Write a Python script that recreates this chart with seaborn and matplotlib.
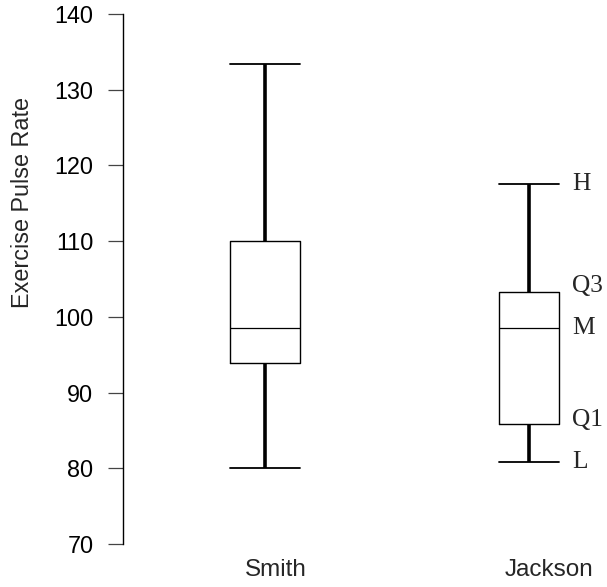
import matplotlib
matplotlib.use("Agg")
import matplotlib.pyplot as plt
import matplotlib.transforms as mtransforms
import pandas as pd
import seaborn as sns

# Five-number summaries of exercise pulse rate for each instructor's class
instructors = ["Smith", "Jackson"]
low = [80.0, 80.8]
q1 = [93.9, 85.8]
median = [98.5, 98.5]
q3 = [110.0, 103.3]
high = [133.4, 117.5]

summary_names = ["L", "Q1", "M", "Q3", "H"]
y_ticks = [70, 80, 90, 100, 110, 120, 130, 140]

# Long-form table: five values per group reproduce the summary exactly
rows = []
for i, name in enumerate(instructors):
    for v in (low[i], q1[i], median[i], q3[i], high[i]):
        rows.append({"Instructor": name, "Pulse": v})
df = pd.DataFrame(rows)

sns.set_style("white")
plt.rcParams["font.family"] = ["Liberation Sans", "DejaVu Sans"]

fig = plt.figure(figsize=(6.07, 5.87), dpi=100)
ax = fig.add_axes([0.2026, 0.0733, 0.786, 0.9029])

box_widths = [0.262, 0.224]
for name, w in zip(instructors, box_widths):
    sns.boxplot(
        data=df[df["Instructor"] == name], x="Instructor", y="Pulse",
        order=instructors, width=w, whis=(0, 100), showfliers=False,
        fill=False, color="black", linecolor="black", linewidth=1.0,
        boxprops=dict(linewidth=1.0),
        medianprops=dict(linewidth=0.9),
        whiskerprops=dict(linewidth=2.6, solid_capstyle="butt"),
        capprops=dict(linewidth=1.3),
        capwidths=w,
        ax=ax,
    )

ax.set_xlim(-0.538, 1.269)
ax.set_ylim(70, 140)
ax.set_yticks(y_ticks)
ax.set_yticklabels([str(t) for t in y_ticks])

for side in ("top", "right", "bottom"):
    ax.spines[side].set_visible(False)
ax.spines["left"].set_color("black")
ax.spines["left"].set_linewidth(1.0)

ax.tick_params(axis="y", direction="out", length=10.8, width=0.9,
               colors="#444444", labelcolor="black", labelsize=16.8, pad=10.5, left=True)
ax.tick_params(axis="x", length=0, labelsize=17.5, pad=11)

ax.set_xticks(range(len(instructors)))
ax.set_xticklabels(instructors)
for lbl, dx in zip(ax.get_xticklabels(), [11, 20]):
    lbl.set_transform(lbl.get_transform() +
                      mtransforms.ScaledTranslation(dx / 100, 0, fig.dpi_scale_trans))

ax.set_xlabel("")
ax.set_ylabel("Exercise Pulse Rate", fontsize=16.8)
ax.yaxis.label.set_verticalalignment("center")
ax.yaxis.set_label_coords(-0.210, 0.645)

# Annotate the five-number summary beside the second box
j = 1
values = [low[j], q1[j], median[j], q3[j], high[j]]
nudges = [0, 3, 0, 4, 0]
for text, val, dy in zip(summary_names, values, nudges):
    ax.annotate(text, xy=(j + box_widths[j] / 2, val),
                xytext=(9.5, dy), textcoords="offset points",
                ha="left", va="center", fontsize=18.3,
                family=["Liberation Serif", "DejaVu Serif"])

fig.savefig("out.png", dpi=100)
